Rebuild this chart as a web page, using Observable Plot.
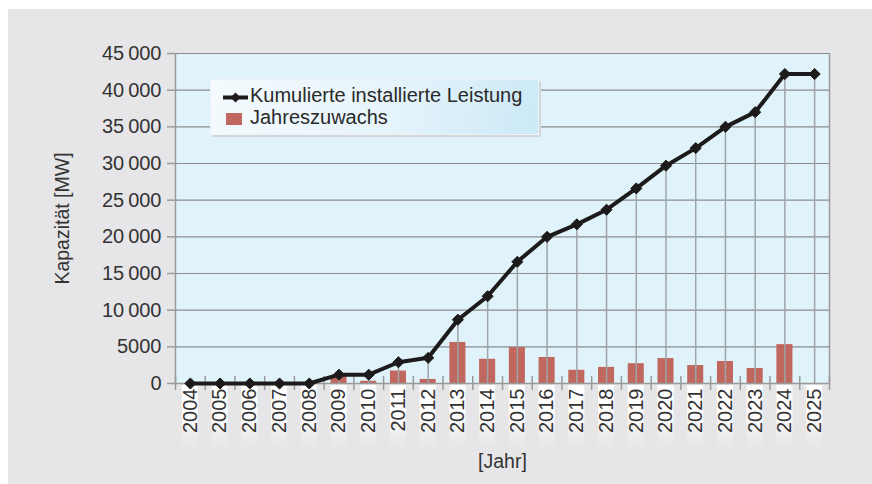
<!DOCTYPE html>
<html>
<head>
<meta charset="utf-8">
<script src="https://cdn.jsdelivr.net/npm/d3@7"></script>
<script src="https://cdn.jsdelivr.net/npm/@observablehq/plot@0.6"></script>
<style>
  html, body { margin: 0; padding: 0; background: #ffffff; }
  #wrap { position: relative; width: 872px; height: 484px; overflow: hidden; font-family: "Liberation Sans", Arial, sans-serif; }
  #panel { position: absolute; left: 8px; top: 9px; right: 0; bottom: 0; background: #e6e6e8; }
  #chart { position: absolute; left: 0; top: 0; }
  #legend { position: absolute; left: 210px; top: 79px; width: 329px; height: 56px;
    background: linear-gradient(100deg, #f4fafd 0%, #e6f4fb 55%, #cbe9f7 100%);
    box-shadow: 2px 2px 0 #d3d7da; border: 1px solid #eef3f6; box-sizing: border-box; }
  .li { position: absolute; left: 39px; font-size: 20px; color: #2a2a2a; white-space: nowrap; }
</style>
</head>
<body>
<div id="wrap">
  <div id="panel"></div>
  <div id="chart"></div>
  <div id="legend">
    <svg width="40" height="56" style="position:absolute;left:0;top:0">
      <line x1="12" x2="37" y1="17.5" y2="17.5" stroke="#1c1a1a" stroke-width="4"></line>
      <path d="M24.5,12.5 L29.5,17.5 L24.5,22.5 L19.5,17.5 Z" fill="#1c1a1a"></path>
      <rect x="15" y="33" width="16" height="12" fill="#c0675f"></rect>
    </svg>
    <div class="li" style="top:4px">Kumulierte installierte Leistung</div>
    <div class="li" style="top:26px">Jahreszuwachs</div>
  </div>
</div>
<script>
const years = [2004,2005,2006,2007,2008,2009,2010,2011,2012,2013,2014,2015,2016,2017,2018,2019,2020,2021,2022,2023,2024,2025];
const cumulative = [0,0,0,0,0,1200,1200,2900,3500,8700,11900,16600,20000,21700,23700,26600,29700,32100,35000,37000,42200,42200];
const annual = [0,0,0,0,0,1000,300,1700,550,5600,3300,4900,3550,1800,2200,2700,3400,2450,3000,2050,5300,0];
const yTicks = [0,5000,10000,15000,20000,25000,30000,35000,40000,45000];

const rows = years.map((y, i) => ({year: y, cum: cumulative[i], add: annual[i]}));
const boundaries = [years[0] - 0.5, ...years.map(y => y + 0.5)];
const fmt = d => d >= 10000 ? d3.format(",")(d).replace(/,/g, "\u2009") : String(d);

const chart = Plot.plot({
  width: 872,
  height: 484,
  marginLeft: 175,
  marginRight: 43,
  marginTop: 53,
  marginBottom: 101,
  style: { background: "transparent", fontFamily: "Liberation Sans, Arial, sans-serif", color: "#333" },
  x: { type: "linear", domain: [2003.5, 2025.5] },
  y: { type: "linear", domain: [0, 45000] },
  marks: [
    Plot.frame({ fill: "#e1f3fa", stroke: null }),
    Plot.rectY(rows, { x1: d => d.year - 0.27, x2: d => d.year + 0.27, y1: d => 0, y2: d => 0, insetTop: 2, insetBottom: -74, fill: "url(#lblgrad)", clip: false }),
    Plot.ruleY(yTicks, { stroke: "#8c8c8c", strokeWidth: 1.2 }),
    Plot.ruleX([2025.5], { stroke: "#9a9a9a", strokeWidth: 1.5 }),
    Plot.ruleX([2003.5], { stroke: "#9a9a9a", strokeWidth: 1.5 }),
    Plot.rectY(rows.filter(d => d.add > 0), { x1: d => d.year - 0.27, x2: d => d.year + 0.27, y1: d => 0, y2: "add", fill: "#c0675f" }),
    Plot.ruleX(rows, { x: "year", y1: d => 0, y2: "cum", stroke: "#9ea4a8", strokeWidth: 1.5 }),
    Plot.ruleY([0], { stroke: "#9a9a9a", strokeWidth: 1.5 }),
    Plot.ruleX(boundaries, { x: d => d, y1: d => 0, y2: d => 0, insetTop: -7, insetBottom: -7, stroke: "#9a9a9a", strokeWidth: 1.5 }),
    Plot.line(rows, { x: "year", y: "cum", stroke: "#1c1a1a", strokeWidth: 4, strokeLinejoin: "round" }),
    Plot.dot(rows, { x: "year", y: "cum", symbol: "diamond2", r: 5, fill: "#1c1a1a", stroke: "#1c1a1a", strokeWidth: 1 }),
    Plot.axisY(yTicks, { tickFormat: fmt, tickSize: 8, tickPadding: 6, fontSize: 20, stroke: "#9a9a9a", strokeWidth: 1.5,
      label: "Kapazität [MW]", labelAnchor: "center", labelArrow: "none", labelOffset: 120 }),
    Plot.axisX(years, { tickFormat: d => String(d), tickSize: 0, tickPadding: 5, tickRotate: -90, fontSize: 20,
      label: "[Jahr]", labelAnchor: "center", labelArrow: "none", labelOffset: 84 })
  ]
});

const svg = d3.select(chart);
const defs = svg.insert("defs", ":first-child");
const g = defs.append("linearGradient").attr("id", "lblgrad").attr("x1", 0).attr("y1", 0).attr("x2", 0).attr("y2", 1);
g.append("stop").attr("offset", "0%").attr("stop-color", "#ffffff").attr("stop-opacity", 1);
g.append("stop").attr("offset", "45%").attr("stop-color", "#ffffff").attr("stop-opacity", 0.9);
g.append("stop").attr("offset", "100%").attr("stop-color", "#e6e6e8").attr("stop-opacity", 0);
svg.selectAll("[aria-label='y-axis label'] text, [aria-label='x-axis label'] text").attr("font-size", 19.5);
svg.selectAll("text").attr("fill", "#333");

document.getElementById("chart").appendChild(chart);
</script>
</body>
</html>
